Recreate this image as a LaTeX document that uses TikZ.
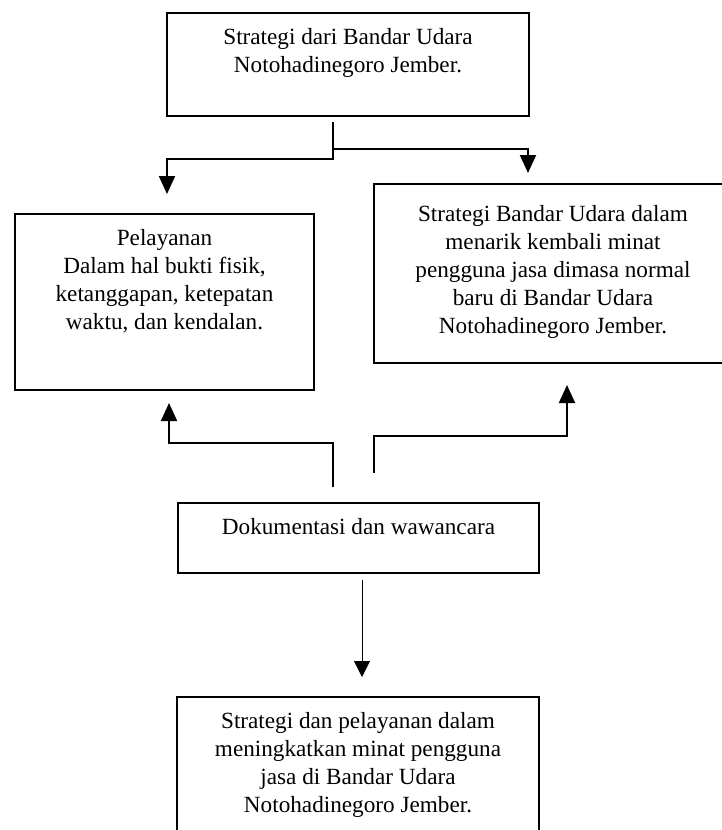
\documentclass[tikz,border=0pt]{standalone}
\usepackage{fontspec}
\setmainfont{Liberation Serif}
\usetikzlibrary{positioning,arrows.meta,calc}

\tikzset{
	kotak/.style={draw, line width=1pt, inner sep=0pt, anchor=north west},
	isi/.style={anchor=north, yshift=-4.5pt, align=center, font=\fontsize{11.6}{14}\selectfont},
	panah/.style={line width=1pt, -{Triangle[length=9pt,width=8pt]}},
	panahtipis/.style={line width=0.5pt, -{Triangle[length=8pt,width=8pt]}}
}

\begin{document}
\begin{tikzpicture}[x=0.5pt, y=-0.5pt]
	\useasboundingbox (0,0) rectangle (722,830);
	\clip (0,0) rectangle (722,830);

	% kotak-kotak
	\node[kotak, minimum width=181pt, minimum height=51.5pt,
		label={[isi]north:Strategi dari Bandar Udara\\Notohadinegoro Jember.}] (strategi) at (166,12) {};
	\node[kotak, minimum width=149.5pt, minimum height=88pt,
		label={[isi]north:Pelayanan\\Dalam hal bukti fisik,\\ketanggapan, ketepatan\\waktu, dan kendalan.}] (pelayanan) at (14,213) {};
	\node[kotak, minimum width=179pt, minimum height=89.5pt,
		label={[isi, yshift=-3pt]north:Strategi Bandar Udara dalam\\menarik kembali minat\\pengguna jasa dimasa normal\\baru di Bandar Udara\\Notohadinegoro Jember.}] (minat) at (373,183) {};
	\node[kotak, minimum width=180.5pt, minimum height=35pt,
		label={[isi]north:Dokumentasi dan wawancara}] (dokumentasi) at (177,502) {};
	\node[kotak, minimum width=181pt, minimum height=100pt,
		label={[isi]north:Strategi dan pelayanan dalam\\meningkatkan minat pengguna\\jasa di Bandar Udara\\Notohadinegoro Jember.}] (hasil) at (176,696) {};

	% panah
	\draw[panah] ($(strategi.south)+(-15,5)$) -- ++(0,37) -| ($(pelayanan.north)+(2.5,-19)$);
	\draw[panah] ($(strategi.south)+(-15,32)$) -| ($(minat.north west)+(155,-10)$);
	\draw[panah] ($(dokumentasi.north)+(-25.5,-15)$) -- ++(0,-44) -| ($(pelayanan.south)+(4.5,12)$);
	\draw[panah] ($(dokumentasi.north)+(15.5,-29)$) -- ++(0,-37) -| ($(minat.south west)+(194,21)$);
	\draw[panahtipis] ($(dokumentasi.south)+(3.5,6)$) -- ($(hasil.north)+(4,-19)$);
\end{tikzpicture}
\end{document}
